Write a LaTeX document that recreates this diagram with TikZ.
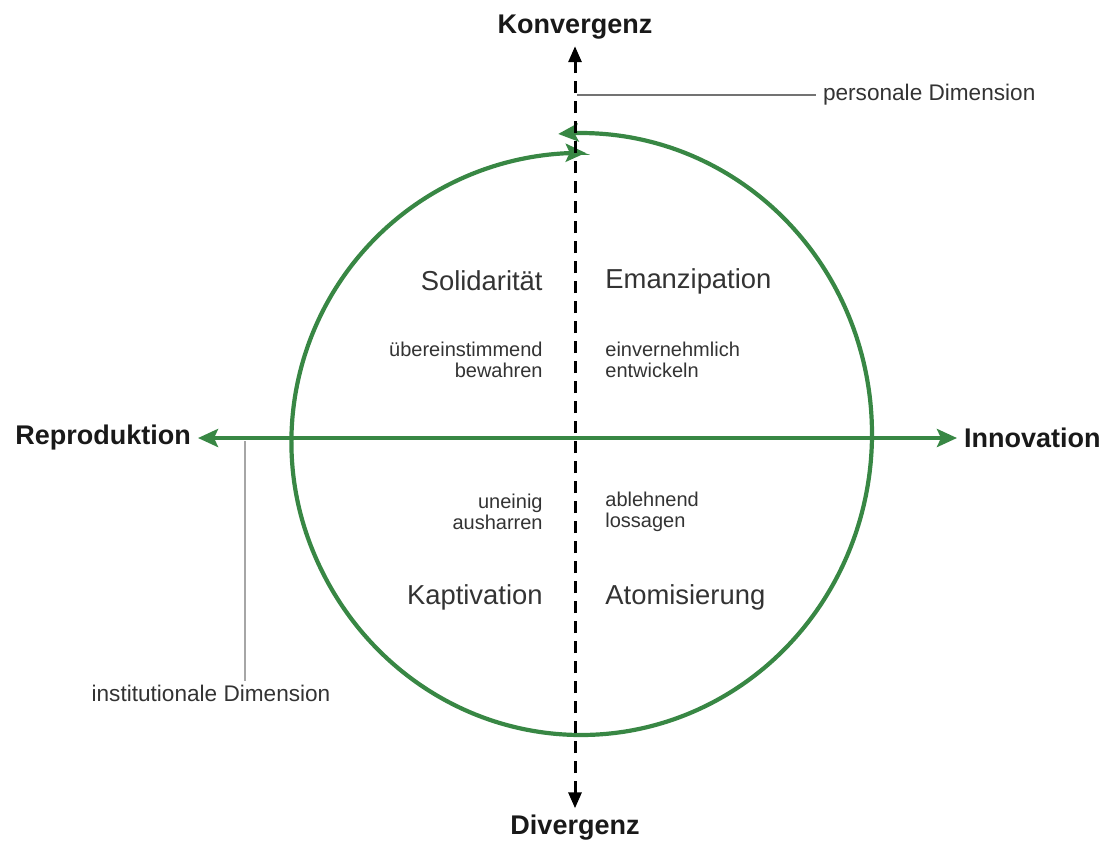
\documentclass[tikz,border=0pt]{standalone}
\usepackage{fontspec}
\setmainfont{Liberation Sans}
\usetikzlibrary{arrows.meta}
\definecolor{cyclegreen}{RGB}{56,135,68}

\begin{document}
\begin{tikzpicture}[x=0.5pt, y=-0.5pt, line width=0.4pt,
  axislabel/.style={font=\fontsize{13.5}{16}\selectfont\bfseries, text=black!90},
  quadlabel/.style={font=\fontsize{13.7}{16}\selectfont, text=black!80, inner sep=0pt},
  verblabel/.style={font=\fontsize{10}{10.5}\selectfont, text=black!80, inner sep=0pt},
  dimlabel/.style={font=\fontsize{11.3}{13}\selectfont, text=black!80},
  greenarrow/.style={draw=cyclegreen, line width=2.1pt,
    {Stealth[length=10pt, width=9pt, inset=2pt]}-{Stealth[length=10pt, width=9pt, inset=2pt]}},
  axisline/.style={draw=black, line width=1.5pt, dash pattern=on 6pt off 4pt,
    {Triangle[length=8pt, width=6.5pt]}-{Triangle[length=8pt, width=6.5pt]}},
  leader/.style={draw=black!55, line width=1pt}]
  \useasboundingbox (0,0) rectangle (1106,842);

  % axis labels
  \node[axislabel] (konv) at (575,27) {Konvergenz};
  \node[axislabel] (div) at (575,828) {Divergenz};
  \node[axislabel, anchor=east] (repro) at (198,438) {Reproduktion};
  \node[axislabel, anchor=west] (inno) at (957,438) {Innovation};

  % the cycle
  \draw[greenarrow] plot[domain=89:454.5, samples=180, smooth]
    ({581+291*(1-0.033*(1+cos(180*min(1,(\x-89)/111))))*cos(\x)},
     {434-301*(1-0.033*(1+cos(180*min(1,(\x-89)/111))))*sin(\x)});

  \draw[greenarrow] (repro) -- (inno);
  \draw[axisline] (div) -- (konv);

  % quadrants
  \node[quadlabel, anchor=east] (solid) at (543,281) {Solidarität};
  \node[quadlabel, anchor=west] (emanz) at (605,281) {Emanzipation};
  \node[verblabel, anchor=east, align=right] (bewahr) at (543,360) {übereinstimmend\\bewahren};
  \node[verblabel, anchor=west, align=left] (entw) at (605,360) {einvernehmlich\\entwickeln};
  \node[verblabel, anchor=east, align=right] (ausharr) at (543,512) {uneinig\\ausharren};
  \node[verblabel, anchor=west, align=left] (lossag) at (605,512) {ablehnend\\lossagen};
  \node[quadlabel, anchor=east] (kapt) at (543,597) {Kaptivation};
  \node[quadlabel, anchor=west] (atom) at (605,597) {Atomisierung};

  % dimensions
  \node[dimlabel, anchor=west] (pers) at (816,95) {personale Dimension};
  \coordinate (persstart) at (577,95);
  \draw[leader] (persstart) -- (pers.west);

  \node[dimlabel, inner sep=1.5pt] (inst) at (211,693) {institutionale Dimension};
  \coordinate (inststart) at (245,441);
  \draw[leader, draw=black!35] (inststart) -- (inst.north -| inststart);
\end{tikzpicture}
\end{document}
